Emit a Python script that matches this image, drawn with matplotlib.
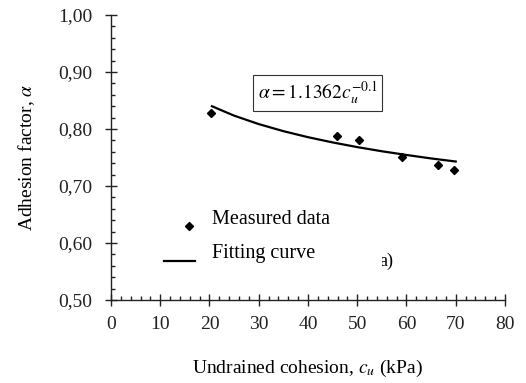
import matplotlib
matplotlib.use("Agg")
import matplotlib.pyplot as plt
import numpy as np
from matplotlib.patches import Rectangle
from matplotlib.ticker import MultipleLocator

# measured data
cu_measured = [20.4, 45.9, 50.4, 59.1, 66.5, 69.7]
alpha_measured = [0.828, 0.788, 0.781, 0.751, 0.737, 0.728]

# fitting curve
cu_fit = [20.5, 25, 30, 35, 40, 45, 50, 55, 60, 65, 70]
alpha_fit = [0.840, 0.8235, 0.8087, 0.7963, 0.7857, 0.7765, 0.7683, 0.7610, 0.7545, 0.7484, 0.7430]

x_ticks = [0, 10, 20, 30, 40, 50, 60, 70, 80]
y_ticks = [0.50, 0.60, 0.70, 0.80, 0.90, 1.00]
y_tick_labels = ["0,50", "0,60", "0,70", "0,80", "0,90", "1,00"]

plt.rcParams['font.family'] = ['Liberation Serif', 'DejaVu Serif']
plt.rcParams['mathtext.fontset'] = 'stix'

fig = plt.figure(figsize=(5.26, 3.83), dpi=100)
ax = fig.add_axes([0.211, 0.2167, 0.749, 0.744])

ax.plot(cu_measured, alpha_measured, linestyle='none', marker='D', markersize=4,
        color='black', label='Measured data')
ax.plot(cu_fit, alpha_fit, color='black', linewidth=1.6, label='Fitting curve')

ax.set_xlim(0, 80)
ax.set_ylim(0.50, 1.00)
ax.set_xticks(x_ticks)
ax.set_yticks(y_ticks)
ax.set_yticklabels(y_tick_labels)
ax.xaxis.set_minor_locator(MultipleLocator(2))
ax.yaxis.set_minor_locator(MultipleLocator(0.02))

for side in ['top', 'right']:
    ax.spines[side].set_visible(False)
for side in ['left', 'bottom']:
    ax.spines[side].set_color('#222222')
    ax.spines[side].set_linewidth(1.0)

ax.tick_params(which='major', direction='inout', length=9, width=1.0,
               labelsize=14, colors='#222222')
ax.tick_params(which='minor', direction='in', length=3, width=1.0, colors='#222222')
ax.tick_params(axis='y', which='major', pad=9)
ax.tick_params(axis='x', which='major', pad=7)

ax.set_xlabel(r"Undrained cohesion, $c_u$ (kPa)", fontsize=14, labelpad=18)
ax.set_ylabel(r"Adhesion factor, $\alpha$", fontsize=14, labelpad=15)

ax.text(0.525, 0.726, r"$\alpha = 1.1362c_u^{-0.1}$", transform=ax.transAxes,
        ha='center', va='center', fontsize=14,
        bbox=dict(boxstyle='square,pad=0.22', facecolor='white',
                  edgecolor='#333333', linewidth=0.8))

leg = ax.legend(loc='upper left', bbox_to_anchor=(0.135, 0.316), frameon=False,
                fontsize=14.5, borderpad=0, borderaxespad=0, handlelength=1.54,
                handletextpad=0.85, labelspacing=0.74)
# keys sit a little below (and the marker a little right of) the key centre in the source
marker_key, line_key = leg.legend_handles
marker_key.set_ydata(np.asarray(marker_key.get_ydata()) - 6.5)
marker_key.set_xdata(np.asarray(marker_key.get_xdata()) + 6.5)
line_key.set_ydata(np.asarray(line_key.get_ydata()) - 7.5)

# panel label, partly hidden as in the source figure
ax.text(0.718, 0.135, "a)", transform=ax.transAxes, ha='right', va='center', fontsize=13)
ax.add_patch(Rectangle((0.62, 0.06), 0.069, 0.14, transform=ax.transAxes,
                       facecolor='white', edgecolor='none', zorder=5))

fig.savefig("out.png", dpi=100)
